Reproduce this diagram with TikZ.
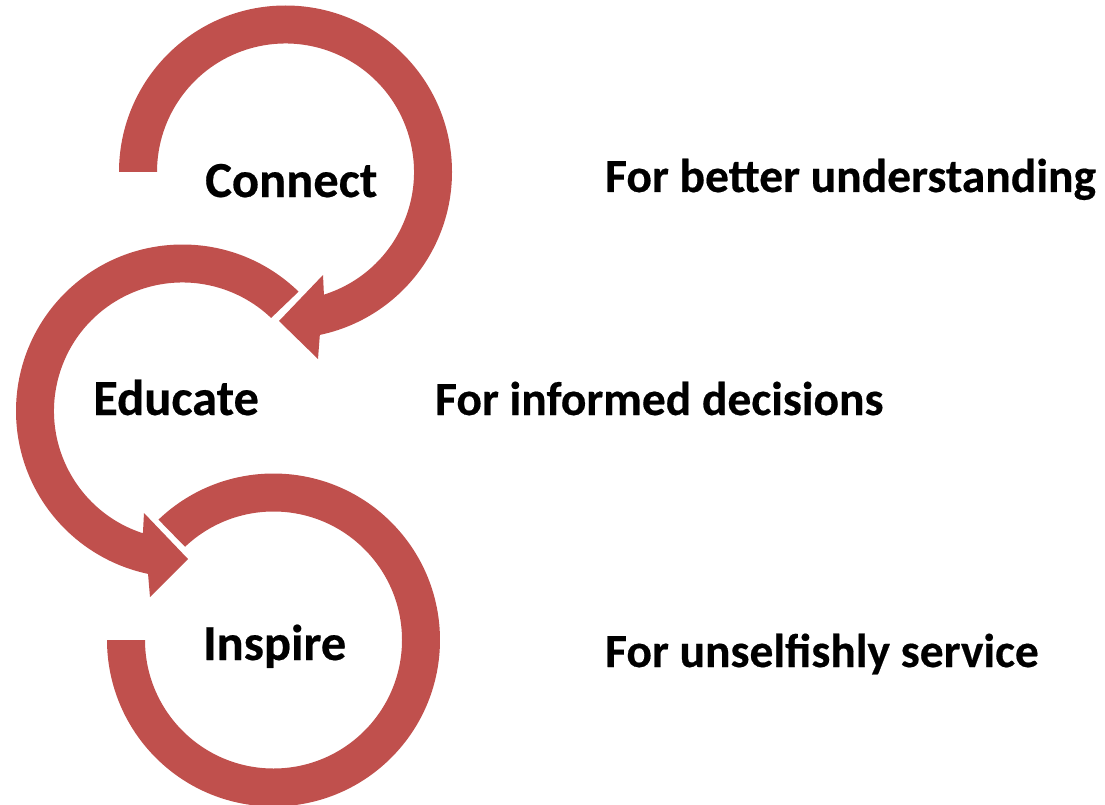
\documentclass[tikz,border=0pt]{standalone}
\usepackage{fontspec}
\setmainfont{Carlito}[BoldFeatures={FakeBold=0.4}]
\usetikzlibrary{calc}
\definecolor{arrowred}{HTML}{C0504D}
\tikzset{
  cyclearrow/.style={fill=arrowred, draw=none},
  steplabel/.style={font=\fontsize{50.5}{60}\selectfont\bfseries, anchor=base west, inner sep=0pt},
  purposelabel/.style={font=\fontsize{47.5}{57}\selectfont\bfseries, anchor=base west, inner sep=0pt}
}
\begin{document}
\begin{tikzpicture}[x=1pt,y=1pt]
\useasboundingbox (0,0) rectangle (1105,-805);
\coordinate (c1) at (285.5,-172);
\coordinate (c2) at (182.5,-411);
\coordinate (c3) at (273.5,-640);
% Connect arrow
\fill[cyclearrow] ([shift={(180:166.5)}]c1) arc[start angle=180, end angle=-78.1, radius=166.5]
  -- (318,-359) -- (279,-321) -- (323,-275)
  -- ([shift={(-72.6:128.5)}]c1) arc[start angle=-72.6, end angle=180, radius=128.5] -- cycle;
% Educate arrow
\fill[cyclearrow] ([shift={(45.8:166.5)}]c2) arc[start angle=45.8, end angle=258.05, radius=166.5]
  -- (150,-597) -- (188,-559) -- (144,-513)
  -- ([shift={(252.06:128.5)}]c2) arc[start angle=252.06, end angle=46.4, radius=128.5] -- cycle;
% Inspire arrow
\fill[cyclearrow] ([shift={(133.7:166.5)}]c3) arc[start angle=133.7, end angle=-180, radius=166.5]
  -- ([shift={(180:128.5)}]c3) arc[start angle=-180, end angle=133.5, radius=128.5] -- cycle;
% Labels
\node[steplabel] (connect) at (205,-197) {Connect};
\node[steplabel] (educate) at (93,-415) {Educate};
\node[steplabel] (inspire) at (203,-660) {Inspire};
\node[purposelabel] (p1) at (605,-192) {For better understanding};
\node[purposelabel] (p2) at (435,-415) {For informed decisions};
\node[purposelabel] (p3) at (605,-667) {For unselfishly service};
\end{tikzpicture}
\end{document}
